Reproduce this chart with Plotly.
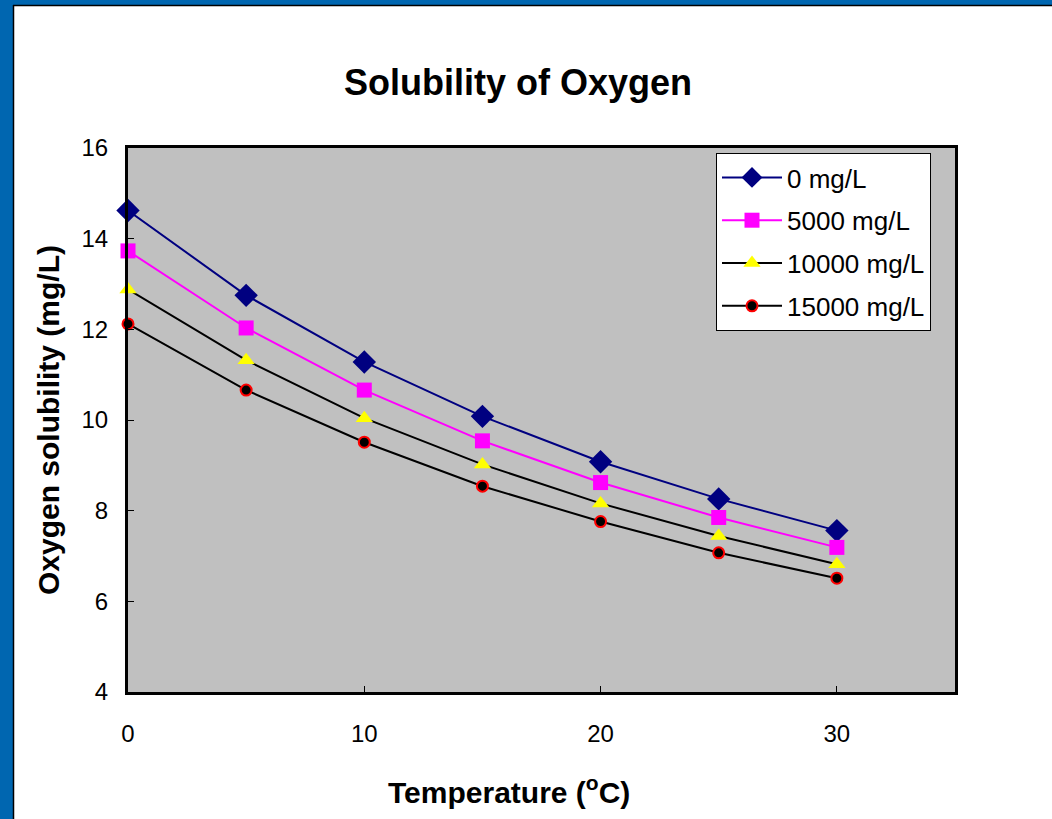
import plotly.graph_objects as go

temperature = [0, 5, 10, 15, 20, 25, 30]
s0 = [14.62, 12.75, 11.28, 10.08, 9.08, 8.26, 7.56]
s5000 = [13.73, 12.03, 10.66, 9.54, 8.62, 7.85, 7.19]
s10000 = [12.88, 11.32, 10.04, 9.02, 8.16, 7.44, 6.82]
s15000 = [12.12, 10.66, 9.51, 8.54, 7.76, 7.07, 6.51]
names = ["0 mg/L", "5000 mg/L", "10000 mg/L", "15000 mg/L"]

FONT = "Liberation Sans, Arial, sans-serif"
L, R, T, B = 128, 97, 148, 127
W, H = 1052, 819
pw, ph = W - L - R, H - T - B

def px(x):
    return (x - L) / pw

def py(y):
    return (H - B - y) / ph

fig = go.Figure()
fig.add_trace(go.Scatter(x=temperature, y=s0, name=names[0], mode="lines+markers", legendgroup="a",
                         cliponaxis=False,
                         line=dict(color="#000080", width=2),
                         marker=dict(symbol="diamond", size=18, color="#000080")))
fig.add_trace(go.Scatter(x=temperature, y=s5000, name=names[1], mode="lines+markers", legendgroup="b",
                         cliponaxis=False,
                         line=dict(color="#FF00FF", width=2),
                         marker=dict(symbol="square", size=15, color="#FF00FF")))
fig.add_trace(go.Scatter(x=temperature, y=s10000, name=names[2], mode="lines+markers", legendgroup="c",
                         cliponaxis=False,
                         line=dict(color="#000000", width=2),
                         marker=dict(symbol="triangle-up", size=15, color="#FFFF00")))
fig.add_trace(go.Scatter(x=temperature, y=s15000, name=names[3], mode="lines+markers", legendgroup="d",
                         cliponaxis=False,
                         line=dict(color="#000000", width=2),
                         marker=dict(symbol="circle", size=11, color="#000000",
                                     line=dict(color="#FF0000", width=2))))

shapes = [
    dict(type="rect", xref="paper", yref="paper", x0=px(0), x1=px(13), y0=py(H), y1=py(0),
         fillcolor="#0066B0", line=dict(width=0), layer="below"),
    dict(type="rect", xref="paper", yref="paper", x0=px(0), x1=px(W), y0=py(5), y1=py(0),
         fillcolor="#0066B0", line=dict(width=0), layer="below"),
    dict(type="line", xref="paper", yref="paper", x0=px(13.5), x1=px(13.5), y0=py(H), y1=py(5),
         line=dict(color="#000000", width=1.5), layer="below"),
    dict(type="line", xref="paper", yref="paper", x0=px(13), x1=px(W), y0=py(5.5), y1=py(5.5),
         line=dict(color="#000000", width=1.5), layer="below"),
]

annotations = [
    dict(text="<b>Temperature (<sup>o</sup>C)</b>", xref="paper", yref="paper",
         x=px(509), y=py(790), xanchor="center", yanchor="middle", showarrow=False,
         font=dict(size=30, family=FONT, color="#000000")),
]

fig.update_layout(
    width=W, height=H,
    margin=dict(l=L, r=R, t=T, b=B, autoexpand=False),
    paper_bgcolor="#FFFFFF",
    plot_bgcolor="#C0C0C0",
    font=dict(family=FONT, size=24, color="#000000"),
    title=dict(text="<b>Solubility of Oxygen</b>", x=px(518), xref="paper", xanchor="center",
               y=1 - 82 / H, yanchor="middle", font=dict(size=36, family=FONT)),
    showlegend=True,
    legend=dict(x=px(716), y=py(153), xanchor="left", yanchor="top",
                bgcolor="#FFFFFF", bordercolor="#000000", borderwidth=1,
                font=dict(size=26, family=FONT), itemwidth=60, tracegroupgap=6),
    shapes=shapes,
    annotations=annotations,
    xaxis=dict(range=[0, 35], tickvals=[0, 10, 20, 30], ticks="inside", ticklen=6,
               tickcolor="#000000", showgrid=False, zeroline=False,
               showline=True, linecolor="#000000", linewidth=3, mirror=True,
               ticklabelstandoff=18),
    yaxis=dict(range=[4, 16], dtick=2, ticks="inside", ticklen=6,
               tickcolor="#000000", showgrid=False, zeroline=False,
               showline=True, linecolor="#000000", linewidth=3, mirror=True,
               ticklabelstandoff=12,
               title=dict(text="<b>Oxygen solubility (mg/L)</b>", font=dict(size=30, family=FONT),
                          standoff=13)),
)

fig.write_html("out.html")
